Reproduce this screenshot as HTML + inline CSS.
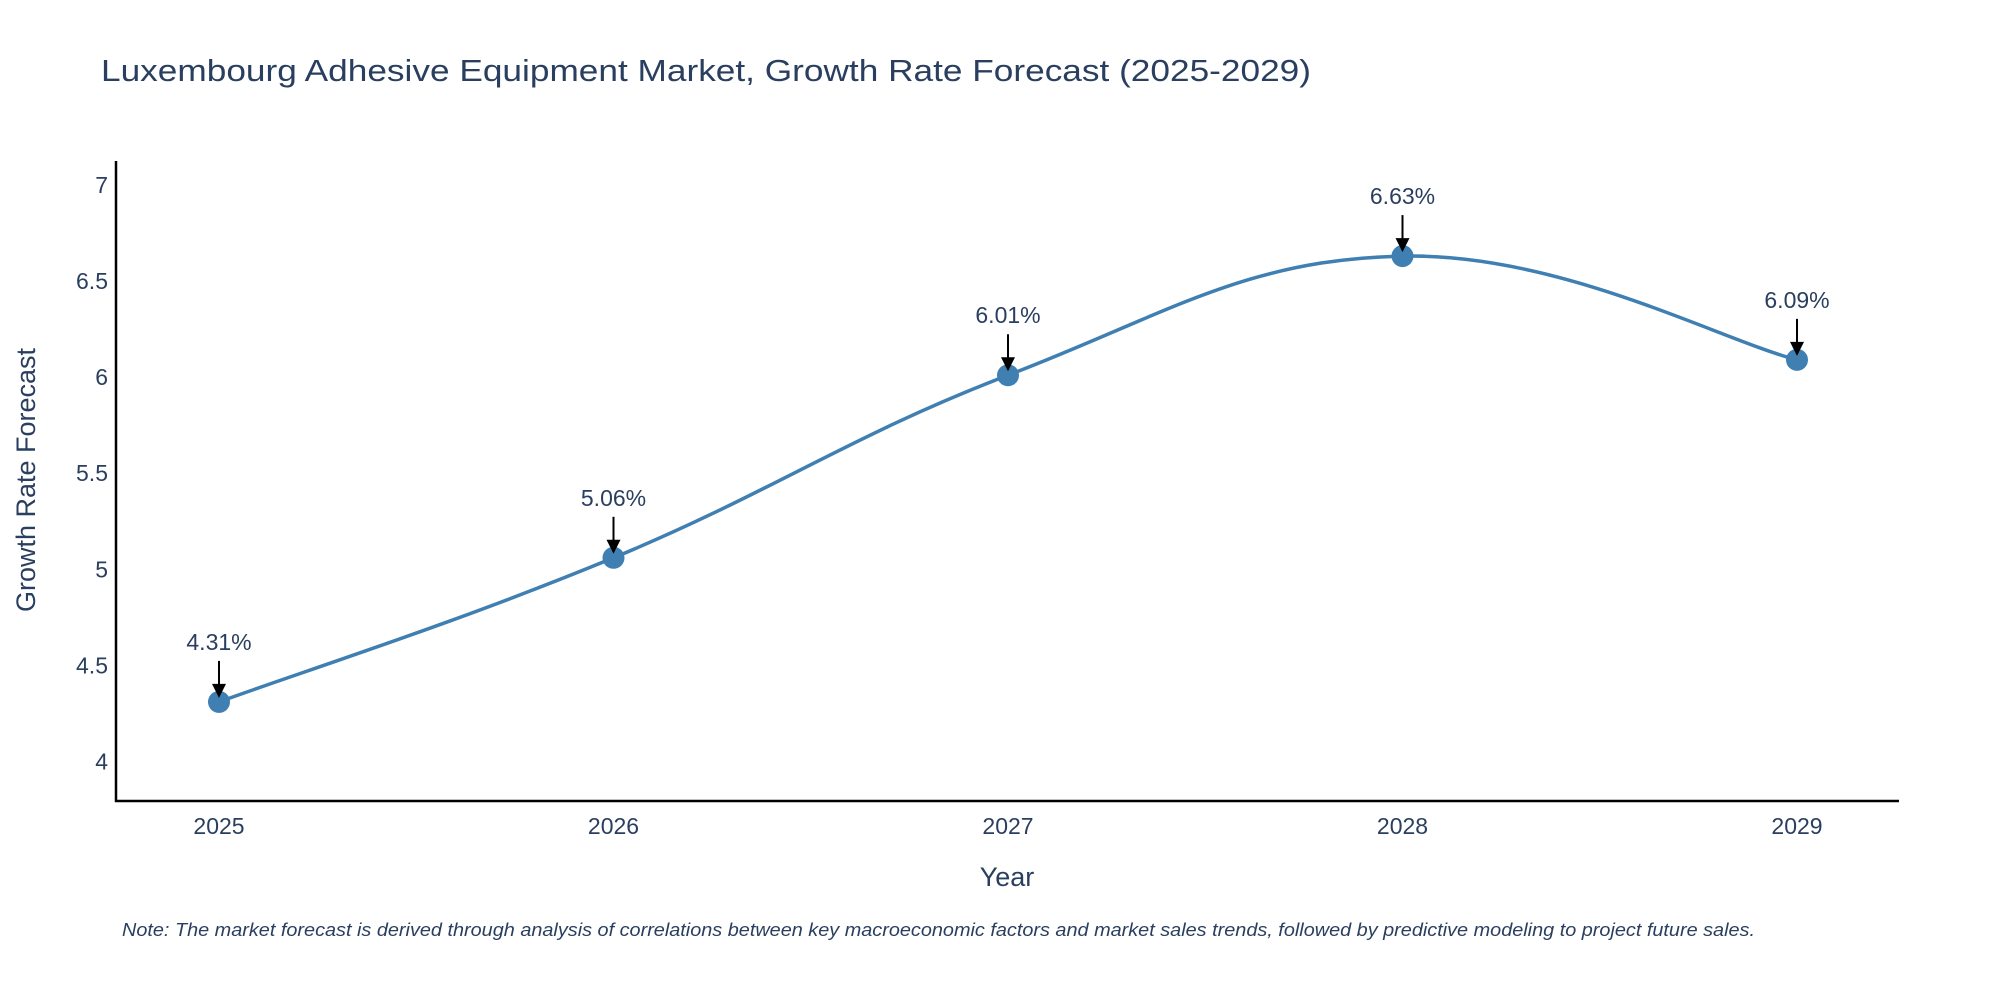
<!DOCTYPE html>
<html><head><meta charset="utf-8"><style>
html,body{margin:0;padding:0;background:#fff;}
svg{display:block;font-family:"Liberation Sans",sans-serif;}
</style></head><body>
<svg id="chart" width="2000" height="1000" viewBox="0 0 2000 1000">
<text x="101" y="81" font-size="31" fill="#2a3f5f" textLength="1210" lengthAdjust="spacingAndGlyphs">Luxembourg Adhesive Equipment Market, Growth Rate Forecast (2025-2029)</text>
<g id="yticks"></g>
<g id="xticks"></g>
<line x1="116" y1="161" x2="116" y2="802" stroke="#000" stroke-width="2.5"/>
<line x1="115" y1="801" x2="1899" y2="801" stroke="#000" stroke-width="2.5"/>
<path id="line" fill="none" stroke="#3f7fb1" stroke-width="3.5"/>
<g id="points"></g>
<g id="annos"></g>
<text x="1007" y="886" font-size="27" fill="#2a3f5f" text-anchor="middle">Year</text>
<text transform="translate(35,480) rotate(-90)" font-size="27" fill="#2a3f5f" text-anchor="middle">Growth Rate Forecast</text>
<text x="122" y="936" font-size="18" font-style="italic" fill="#2a3f5f" textLength="1633" lengthAdjust="spacingAndGlyphs">Note: The market forecast is derived through analysis of correlations between key macroeconomic factors and market sales trends, followed by predictive modeling to project future sales.</text>
</svg>
<script>
const years = [2025, 2026, 2027, 2028, 2029];
const values = [4.31, 5.06, 6.01, 6.63, 6.09];
const valueLabels = ["4.31%", "5.06%", "6.01%", "6.63%", "6.09%"];
const yTickValues = [4, 4.5, 5, 5.5, 6, 6.5, 7];
const yTickLabels = ["4", "4.5", "5", "5.5", "6", "6.5", "7"];

const NS = "http://www.w3.org/2000/svg";
function xs(v){ return 219 + (v - 2025) * 394.5; }
function ys(v){ return 761.5 - (v - 4) * 192.17; }
function mk(tag, attrs, parent){ const e=document.createElementNS(NS,tag); for(const k in attrs) e.setAttribute(k,attrs[k]); parent.appendChild(e); return e; }

const yt = document.getElementById('yticks');
yTickValues.forEach((v,i)=>{
  const t = mk('text',{x:108,y:ys(v)+8,'font-size':23,fill:'#2a3f5f','text-anchor':'end'},yt);
  
  
  t.textContent = yTickLabels[i];
});
const xt = document.getElementById('xticks');
years.forEach(y=>{
  const t = mk('text',{x:xs(y),y:834,'font-size':23,fill:'#2a3f5f','text-anchor':'middle'},xt);
  
  
  t.textContent = String(y);
});

const pts = years.map((y,i)=>[xs(y), ys(values[i])]);
let d = "M"+pts[0][0]+","+pts[0][1];
const s = 0.2;
for(let i=0;i<pts.length-1;i++){
  const p0=pts[Math.max(0,i-1)], p1=pts[i], p2=pts[i+1], p3=pts[Math.min(pts.length-1,i+2)];
  const c1=[p1[0]+(p2[0]-p0[0])*s, p1[1]+(p2[1]-p0[1])*s];
  const c2=[p2[0]-(p3[0]-p1[0])*s, p2[1]-(p3[1]-p1[1])*s];
  d += " C"+c1[0]+","+c1[1]+" "+c2[0]+","+c2[1]+" "+p2[0]+","+p2[1];
}
document.getElementById('line').setAttribute('d', d);

const pg = document.getElementById('points');
const ag = document.getElementById('annos');
pts.forEach((p,i)=>{
  const c = mk('circle',{cx:p[0],cy:p[1],r:11,fill:'#3f7fb1'},pg);
  
  
  const l = mk('line',{x1:p[0],y1:p[1]-41,x2:p[0],y2:p[1]-14,stroke:'#000','stroke-width':2},ag);
  
  
  const h = mk('polygon',{points:(p[0]-7)+","+(p[1]-18)+" "+(p[0]+7)+","+(p[1]-18)+" "+p[0]+","+(p[1]-4),fill:'#000'},ag);
  
  
  const t = mk('text',{x:p[0],y:p[1]-52,'font-size':23,fill:'#2a3f5f','text-anchor':'middle'},ag);
  
  
  t.textContent = valueLabels[i];
});
</script>
</body></html>
